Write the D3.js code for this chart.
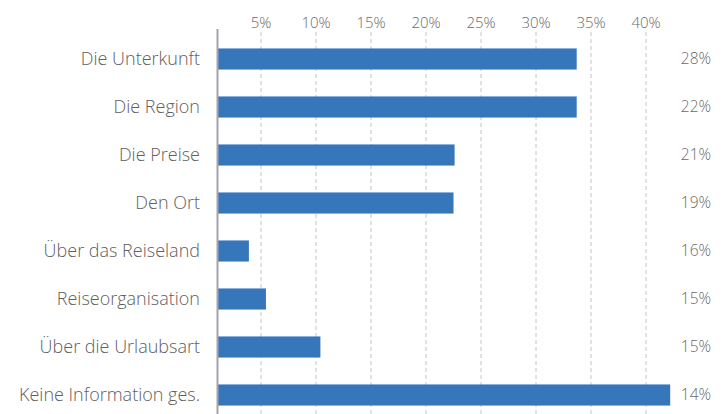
<!DOCTYPE html>
<html>
<head>
<meta charset="utf-8">
<script src="https://cdn.jsdelivr.net/npm/d3@7"></script>
<style>
  body { margin: 0; background: #fff; }
  text { font-family: "Open Sans", "Noto Sans", sans-serif; font-weight: 300; }
</style>
</head>
<body>
<script>
// categories, top to bottom
var categories = ["Die Unterkunft", "Die Region", "Die Preise", "Den Ort",
                  "Über das Reiseland", "Reiseorganisation", "Über die Urlaubsart", "Keine Information ges."];
// bar lengths (%)
var values = [33.7, 33.7, 22.6, 22.5, 3.9, 5.45, 10.4, 42.2];
// labels printed at the right
var sideLabels = ["28%", "22%", "21%", "19%", "16%", "15%", "15%", "14%"];
var tickValues = [5, 10, 15, 20, 25, 30, 35, 40];

var width = 728, height = 414;

var svg = d3.select("body").append("svg")
            .attr("width", width)
            .attr("height", height);

var x = d3.scaleLinear()
          .domain([1, 44])
          .range([217, 690]);

var y = d3.scaleBand()
          .domain(categories)
          .range([35, 419])
          .paddingInner(0.56)
          .paddingOuter(0.28);

// dashed gridlines
svg.append("g").selectAll("line")
   .data(tickValues)
   .enter()
      .append("line")
      .attr("x1", function(d){return x(d)})
      .attr("x2", function(d){return x(d)})
      .attr("y1", 32)
      .attr("y2", height)
      .attr("stroke", "#c4c4cc")
      .attr("stroke-width", 1)
      .attr("stroke-dasharray", "4,3");

// tick labels on top
svg.append("g").selectAll("text")
   .data(tickValues)
   .enter()
      .append("text")
      .attr("x", function(d){return x(d)})
      .attr("y", 28)
      .attr("text-anchor", "middle")
      .attr("font-size", "15px")
      .attr("fill", "#6a6a6a")
      .text(function(d){return d + "%"});

// bars
svg.append("g").selectAll("rect")
   .data(values)
   .enter()
      .append("rect")
      .attr("x", x(1) + 1)
      .attr("y", function(d, i){return y(categories[i])})
      .attr("width", function(d){return x(d) - x(1) - 1})
      .attr("height", y.bandwidth())
      .attr("fill", "#3677bb");

// vertical axis line
svg.append("line")
   .attr("x1", x(1) + 0.5)
   .attr("x2", x(1) + 0.5)
   .attr("y1", 29)
   .attr("y2", height)
   .attr("stroke", "#a3a3ad")
   .attr("stroke-width", 2);

// category labels
svg.append("g").selectAll("text")
   .data(categories)
   .enter()
      .append("text")
      .attr("x", 200)
      .attr("y", function(d){return y(d) + y.bandwidth() / 2})
      .attr("dy", ".35em")
      .attr("text-anchor", "end")
      .attr("font-size", "18px")
      .attr("fill", "#606060")
      .text(function(d){return d});

// right-hand labels
svg.append("g").selectAll("text")
   .data(sideLabels)
   .enter()
      .append("text")
      .attr("x", 711)
      .attr("y", function(d, i){return y(categories[i]) + y.bandwidth() / 2})
      .attr("dy", ".35em")
      .attr("text-anchor", "end")
      .attr("font-size", "15.5px")
      .attr("fill", "#6a6a6a")
      .text(function(d){return d});
</script>
</body>
</html>
